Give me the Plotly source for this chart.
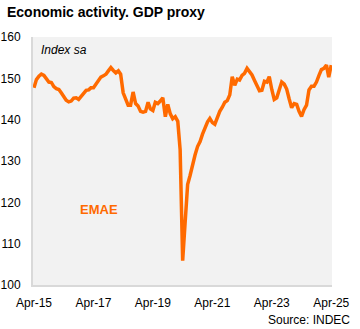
import plotly.graph_objects as go
import pandas as pd

start_month = "2015-04-01"
emae = [
    147.7, 149.7, 150.5, 151.0, 150.7, 150.0, 149.1, 149.0, 148.0, 147.5,
    147.3, 146.5, 145.6, 144.7, 144.3, 144.5, 145.2, 145.3, 144.9, 145.7,
    146.5, 147.1, 147.2, 147.7, 147.7, 148.5, 149.6, 150.3, 150.6, 151.0,
    151.8, 152.6, 151.9, 151.3, 151.8, 151.0, 146.5, 144.7, 143.5, 143.5,
    146.7, 143.9, 143.3, 142.0, 141.8, 142.0, 144.2, 142.6, 142.2, 144.2,
    143.9, 144.5, 145.3, 140.7, 143.7, 141.4, 140.2, 140.7, 139.6, 132.7,
    105.9, 115.0, 124.3, 126.5, 129.2, 131.5, 133.5, 134.7, 136.5, 138.2,
    139.5, 140.3, 139.3, 138.9, 140.5, 142.0, 143.0, 144.2, 144.6, 146.0,
    150.4, 148.3, 149.8, 149.6, 150.7, 151.2, 152.4, 151.7, 150.8, 149.5,
    148.1, 147.0, 147.1, 149.3, 149.1, 150.4, 147.3, 144.9, 145.3, 147.3,
    149.1, 148.6, 147.4, 145.0, 142.9, 143.9, 143.7, 142.0, 140.8, 142.4,
    143.5, 147.2, 148.1, 148.1, 149.1, 150.7, 152.1, 152.4, 153.2, 150.3,
    153.2,
]
dates = pd.date_range(start_month, periods=len(emae), freq="MS")

tick_dates = ["2015-04-01", "2017-04-01", "2019-04-01", "2021-04-01", "2023-04-01", "2025-04-01"]
tick_labels = ["Apr-15", "Apr-17", "Apr-19", "Apr-21", "Apr-23", "Apr-25"]
y_ticks = [100, 110, 120, 130, 140, 150, 160]

ORANGE = "#FF6A00"
FONT = "Liberation Sans, Arial, sans-serif"

fig = go.Figure()
fig.add_trace(go.Scatter(
    x=dates, y=emae, mode="lines",
    line=dict(color=ORANGE, width=3.5),
    hoverinfo="skip", showlegend=False,
))

fig.update_layout(
    width=360, height=329,
    margin=dict(l=33, r=28, t=37, b=44),
    paper_bgcolor="white",
    plot_bgcolor="#F2F2F2",
    font=dict(family=FONT, size=12, color="#000000"),
    xaxis=dict(
        range=["2015-03-20", "2025-04-10"],
        tickvals=tick_dates, ticktext=tick_labels,
        showgrid=False, zeroline=False, automargin=False,
        showline=True, linecolor="#D9D9D9", linewidth=2,
        ticks="", ticklabelstandoff=6,
        tickfont=dict(size=12, color="#000000"),
    ),
    yaxis=dict(
        range=[100, 160],
        tickvals=y_ticks,
        showgrid=False, zeroline=False, automargin=False,
        showline=True, linecolor="#D9D9D9", linewidth=2,
        ticks="", ticklabelstandoff=8,
        tickfont=dict(size=12, color="#000000"),
    ),
    annotations=[
        dict(text="<b>Economic activity. GDP proxy</b>", xref="paper", yref="paper",
             x=-28/299, y=1 + 25/248, xanchor="left", yanchor="middle",
             showarrow=False, font=dict(size=14, color="#000000", family=FONT)),
        dict(text="<i>Index sa</i>", xref="paper", yref="paper",
             x=6/299, y=1 - 13/248, xanchor="left", yanchor="middle",
             showarrow=False, font=dict(size=12, color="#000000", family=FONT)),
        dict(text="<b>EMAE</b>", xref="paper", yref="paper",
             x=45/299, y=(285 - 209) / 248, xanchor="left", yanchor="middle",
             showarrow=False, font=dict(size=13, color=ORANGE, family=FONT)),
        dict(text="Source: INDEC", xref="paper", yref="paper",
             x=(352 - 33) / 299, y=-(320 - 285) / 248, xanchor="right", yanchor="middle",
             showarrow=False, font=dict(size=12, color="#000000", family=FONT)),
    ],
)

fig.write_html("out.html")
